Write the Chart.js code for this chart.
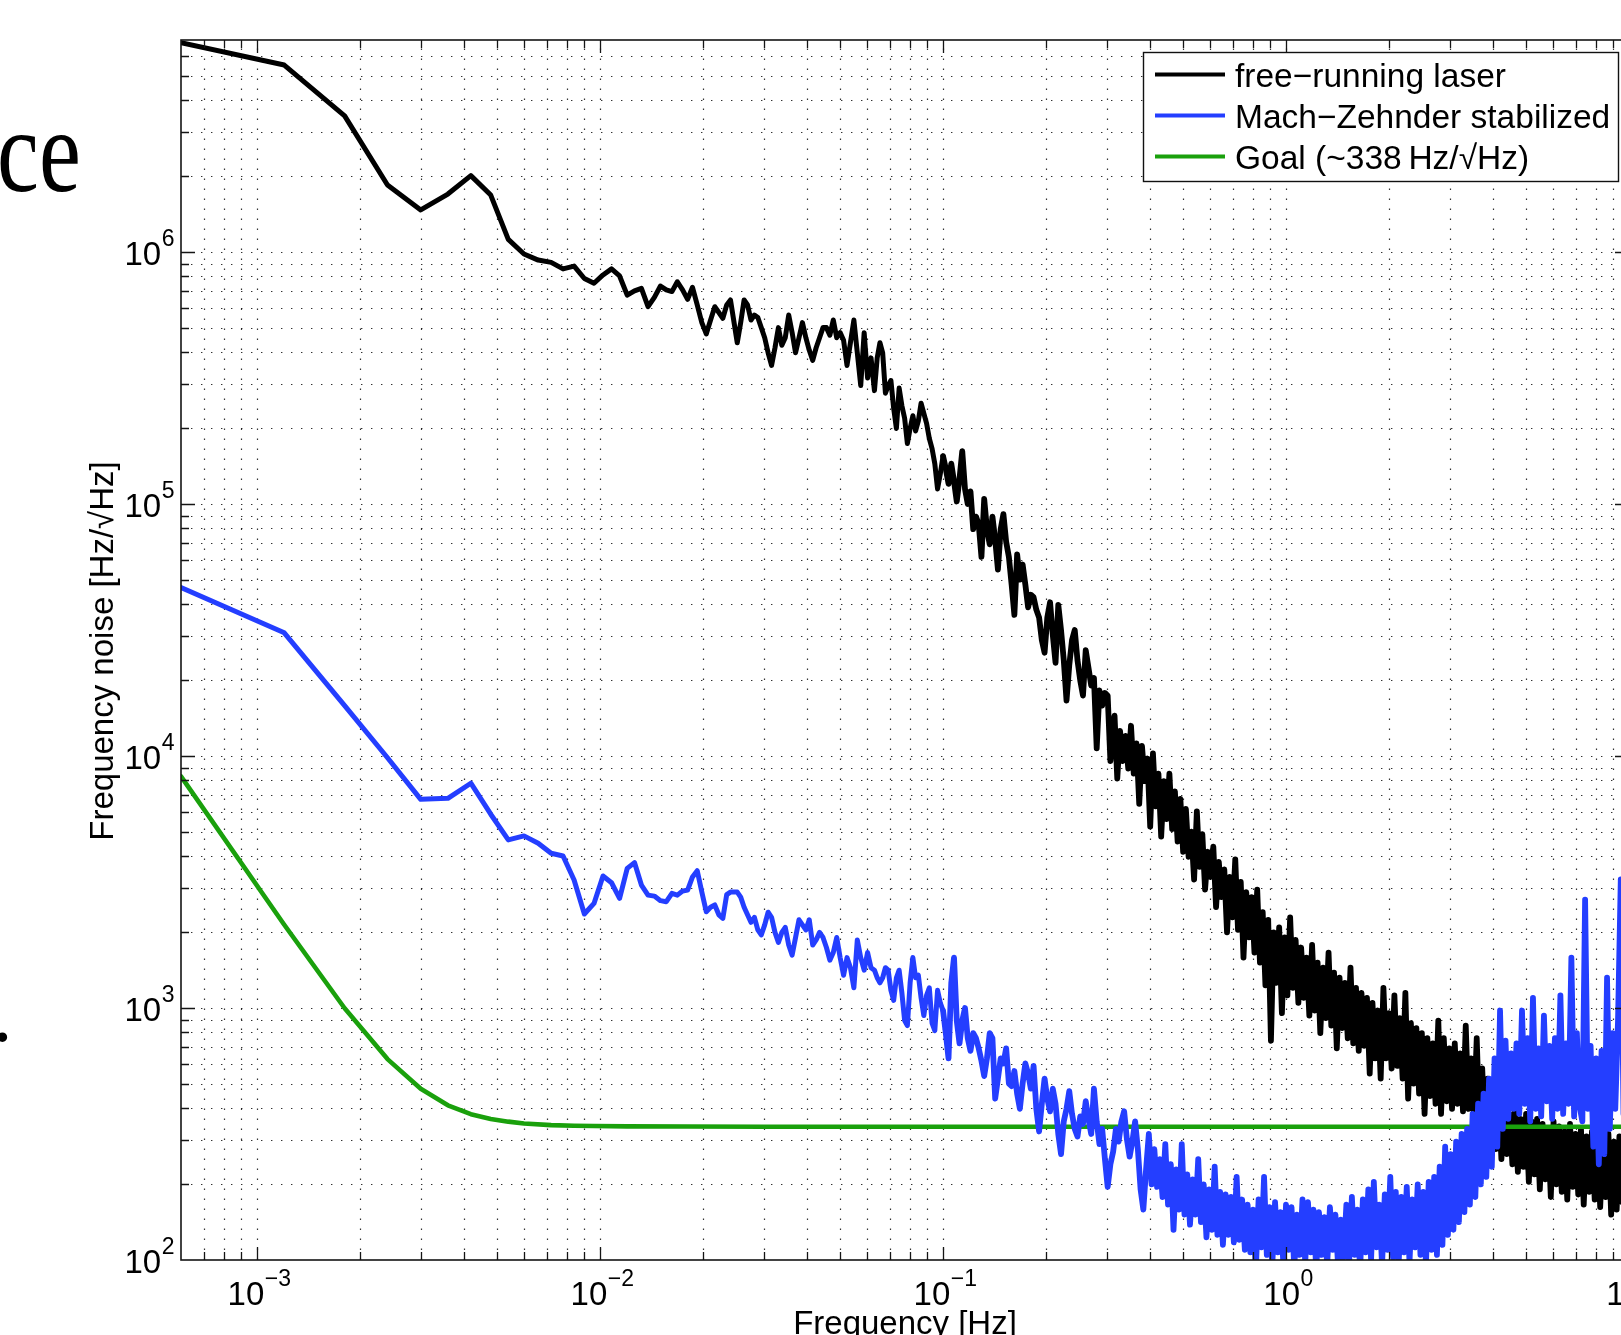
<!DOCTYPE html>
<html>
<head>
<meta charset="utf-8">
<script src="https://cdn.jsdelivr.net/npm/chart.js@4.4.0/dist/chart.umd.min.js"></script>
<style>
html,body{margin:0;padding:0;background:#fff;overflow:hidden;width:1621px;height:1335px}
#wrap{position:absolute;left:0;top:0;width:1700px;height:1335px}
</style>
</head>
<body>
<div id="wrap"><canvas id="c" width="1700" height="1335" style="width:1700px;height:1335px"></canvas></div>
<script>
// ---------------- data (values are log10 of frequency noise in Hz/sqrt(Hz)) ----------------
// low-frequency FFT bins (Hz)
const lowBinFreq = [0.0006,0.0012,0.0018,0.0024,0.0030,0.0036,0.0042,0.0048,0.0054,0.0060,
  0.0066,0.0072,0.0078,0.0084,0.0090,0.0096,0.0102,0.0108,0.0114,0.0120,
  0.0126,0.0132,0.0138,0.0144,0.0150,0.0156,0.0162,0.0168,0.0174,0.0180,
  0.0186,0.0192,0.0198,0.0204,0.0210,0.0216,0.0222,0.0228,0.0234,0.0240];

const freeRunningLow = [6.831,6.742,6.540,6.266,6.167,6.230,6.303,6.226,6.050,5.992,
  5.968,5.959,5.933,5.944,5.895,5.876,5.909,5.933,5.905,5.829,
  5.846,5.856,5.783,5.820,5.865,5.850,5.843,5.882,5.850,5.812,
  5.860,5.790,5.720,5.675,5.730,5.783,5.760,5.737,5.790,5.810];

const mzStabilizedLow = [4.669,4.489,4.200,3.993,3.828,3.832,3.892,3.769,3.667,3.683,
  3.654,3.614,3.603,3.508,3.373,3.415,3.524,3.497,3.435,3.554,
  3.577,3.488,3.448,3.444,3.426,3.422,3.455,3.448,3.464,3.468,
  3.520,3.545,3.460,3.382,3.400,3.409,3.370,3.356,3.450,3.460];

// dense parts: log10(f) start and step of each block
const blockA = {start: -1.60, step: 0.010};
const blockB = {start: -1.20, step: 0.008};
const blockC_free = {start: -0.50, step: 0.008};
const blockC_mz = {start: -0.40, step: 0.008};

const freeRunningA = [5.64,5.72,5.81,5.79,5.73,5.75,5.74,5.70,5.66,5.60,
  5.55,5.62,5.70,5.63,5.66,5.75,5.68,5.60,5.66,5.72,
  5.66,5.61,5.57,5.62,5.66,5.70,5.70,5.67,5.73,5.66,
  5.68,5.65,5.55,5.64,5.73,5.60,5.47,5.68,5.50,5.58];

const freeRunningB = [5.45,5.58,5.64,5.60,5.44,5.47,5.49,5.38,5.30,5.46,
  5.39,5.34,5.24,5.30,5.35,5.29,5.33,5.40,5.36,5.32,
  5.26,5.22,5.16,5.06,5.12,5.19,5.14,5.08,5.16,5.09,
  5.01,5.10,5.21,5.06,5.00,5.05,4.90,4.95,4.92,4.79,
  5.02,4.90,4.84,4.95,4.86,4.74,4.90,4.96,4.85,4.79,
  4.68,4.56,4.80,4.70,4.76,4.68,4.59,4.64,4.63,4.58,
  4.55,4.46,4.41,4.55,4.61,4.48,4.37,4.60,4.50,4.38,
  4.22,4.36,4.46,4.50,4.38,4.30,4.24,4.42,4.35,4.28,
  4.31,4.03,4.26,4.20,4.25,4.24,3.98,4.12];

const freeRunningC = [4.16,3.91,4.10,3.98,4.08,3.95,4.12,3.93,4.05,3.81,
  4.04,3.90,3.99,3.72,4.01,3.80,3.93,3.68,3.90,3.75,
  3.93,3.71,3.86,3.66,3.83,3.62,3.79,3.60,3.70,3.51,
  3.78,3.56,3.69,3.47,3.62,3.52,3.64,3.40,3.58,3.44,
  3.55,3.30,3.52,3.36,3.59,3.31,3.50,3.20,3.46,3.28,
  3.44,3.22,3.47,3.18,3.38,3.09,3.35,2.87,3.30,3.10,
  3.32,2.98,3.28,3.05,3.36,3.08,3.27,3.02,3.24,3.04,
  3.20,2.97,3.25,2.99,3.18,2.90,3.16,2.96,3.22,2.93,
  3.14,2.84,3.12,2.92,3.10,2.88,3.16,2.86,3.08,2.83,
  3.06,2.85,3.04,2.74,3.02,2.80,2.99,2.72,3.08,2.80,
  2.98,2.76,3.05,2.77,2.96,2.72,3.06,2.64,2.94,2.70,
  2.92,2.66,2.90,2.58,2.88,2.65,2.86,2.62,2.95,2.58,
  2.88,2.63,2.84,2.60,2.86,2.62,2.82,2.59,2.93,2.60,
  2.80,2.57,2.88,2.54,2.76,2.50,2.72,2.45,2.68,2.44,
  2.64,2.40,2.62,2.42,2.58,2.38,2.60,2.35,2.56,2.37,
  2.58,2.31,2.55,2.34,2.56,2.28,2.54,2.32,2.52,2.25,
  2.55,2.30,2.53,2.27,2.51,2.24,2.54,2.29,2.50,2.26,
  2.52,2.22,2.49,2.27,2.51,2.24,2.50,2.21,2.48,2.25,
  2.50,2.18,2.47,2.20,2.49,2.23,2.46,2.21];

const mzStabilizedA = [3.46,3.44,3.40,3.37,3.34,3.36,3.31,3.29,3.33,3.38,
  3.36,3.30,3.26,3.30,3.32,3.25,3.21,3.28,3.35,3.33,
  3.31,3.35,3.25,3.27,3.30,3.28,3.24,3.19,3.22,3.28,
  3.20,3.13,3.20,3.16,3.08,3.27,3.20,3.15,3.22,3.16];

const mzStabilizedB = [3.15,3.12,3.10,3.12,3.16,3.15,3.07,3.03,3.12,3.15,
  3.06,2.95,2.93,3.10,3.20,3.12,3.13,3.04,2.97,3.05,
  3.08,2.94,2.91,3.07,3.02,2.99,2.90,2.80,3.10,3.20,
  2.95,2.86,2.95,3.00,2.88,2.83,2.90,2.88,2.84,2.79,
  2.73,2.80,2.90,2.88,2.64,2.72,2.80,2.78,2.84,2.70,
  2.69,2.75,2.66,2.60,2.70,2.78,2.74,2.68,2.77,2.60,
  2.51,2.62,2.72,2.64,2.59,2.68,2.62,2.50,2.42,2.55,
  2.60,2.67,2.58,2.52,2.49,2.57,2.54,2.63,2.56,2.50,
  2.68,2.55,2.46,2.52,2.40,2.29,2.38,2.43,2.52,2.47,
  2.55,2.59,2.48,2.41,2.47,2.55,2.44,2.28,2.20,2.36];

const mzStabilizedC = [2.50,2.30,2.44,2.29,2.40,2.25,2.46,2.22,2.38,2.12,
  2.36,2.20,2.46,2.18,2.34,2.14,2.32,2.18,2.40,2.15,
  2.30,2.09,2.28,2.12,2.37,2.10,2.27,2.06,2.26,2.10,
  2.25,2.07,2.33,2.08,2.24,2.04,2.22,2.03,2.20,1.96,
  2.24,2.05,2.33,2.02,2.21,1.98,2.23,2.03,2.19,1.99,
  2.22,2.04,2.21,1.97,2.18,2.02,2.24,1.99,2.23,2.03,
  2.20,1.96,2.19,2.02,2.17,1.98,2.21,2.04,2.18,1.97,
  2.16,2.01,2.22,1.99,2.25,2.02,2.20,1.96,2.24,2.03,
  2.28,2.00,2.31,2.05,2.22,1.98,2.26,2.04,2.33,2.01,
  2.27,1.97,2.25,2.03,2.29,1.99,2.24,2.05,2.30,2.02,
  2.27,1.98,2.31,2.04,2.33,2.02,2.37,2.06,2.45,2.10,
  2.42,2.12,2.47,2.15,2.50,2.19,2.52,2.22,2.58,2.25,
  2.62,2.30,2.66,2.33,2.72,2.37,2.80,2.45,2.99,2.52,
  2.87,2.56,2.82,2.60,2.86,2.58,2.99,2.62,2.88,2.55,
  3.04,2.60,2.84,2.57,2.97,2.63,2.85,2.56,2.88,2.60,
  3.05,2.58,2.86,2.62,3.20,2.57,2.90,2.61,2.55,3.43,
  2.60,2.85,2.45,2.80,2.38,2.83,2.42,3.12,2.52,2.90,
  2.60,2.95,3.51,2.58,3.10,2.65];

// goal curve (Hz/sqrt(Hz)) at its frequencies (Hz)
const goalFreq = [0.0006,0.0012,0.0018,0.0024,0.0030,0.0036,0.0042,0.0048,0.0054,0.0060,0.0072,0.0084,0.0096,0.012,0.018,0.03,0.1,1,10];
const goalValue = [8300,2140,998,627,478,411,379,363,354,348,343,341,340,339,338.5,338,338,338,338];

const seriesLabels = ['free\u2212running laser', 'Mach\u2212Zehnder stabilized', 'Goal (~338\u2009Hz/\u221AHz)'];
const seriesColors = ['#000000', 'rgb(36,62,255)', 'rgb(26,160,12)'];
const xTickExponents = [-3, -2, -1, 0, 1];
const yTickExponents = [2, 3, 4, 5, 6];
const xTitle = 'Frequency [Hz]';
const yTitle = 'Frequency noise [Hz/\u221AHz]';
const xRange = [6.0e-4, 10];
const yRange = [100, 6.94e6];

// ---------------- build points ----------------
function lowPoints(freqs, logs) { return freqs.map((f, i) => ({x: f, y: Math.pow(10, logs[i])})); }
function blockPoints(block, logs) { return logs.map((v, i) => ({x: Math.pow(10, block.start + i * block.step), y: Math.pow(10, v)})); }

const freePts = [].concat(lowPoints(lowBinFreq, freeRunningLow), blockPoints(blockA, freeRunningA),
  blockPoints(blockB, freeRunningB), blockPoints(blockC_free, freeRunningC));
const mzPts = [].concat(lowPoints(lowBinFreq, mzStabilizedLow), blockPoints(blockA, mzStabilizedA),
  blockPoints(blockB, mzStabilizedB), blockPoints(blockC_mz, mzStabilizedC));
const goalPts = goalFreq.map((f, i) => ({x: f, y: goalValue[i]}));

const FONT = '"Liberation Sans", Arial, Helvetica, sans-serif';

function gridValues(min, max) {
  const out = [];
  for (let d = -5; d <= 8; d++) {
    for (let m = 1; m <= 9; m++) {
      const v = m * Math.pow(10, d);
      if (v > min * 1.0001 && v < max * 0.9999) out.push({v, major: m === 1});
    }
  }
  return out;
}

function drawPow(ctx, exp, x, baseY, supY, align) {
  const base = '10';
  const sup = exp < 0 ? '\u2212' + Math.abs(exp) : String(exp);
  ctx.font = '33px ' + FONT;
  const wb = ctx.measureText(base).width;
  ctx.font = '23px ' + FONT;
  const ws = ctx.measureText(sup).width;
  let x0 = align === 'right' ? x - wb - ws : x - (wb + ws) / 2;
  ctx.textAlign = 'left';
  ctx.textBaseline = 'alphabetic';
  ctx.font = '33px ' + FONT;
  ctx.fillText(base, x0, baseY);
  ctx.font = '23px ' + FONT;
  ctx.fillText(sup, x0 + wb + 0.5, supY);
}

const matlabAxes = {
  id: 'matlabAxes',
  beforeDraw(chart) {
    const ctx = chart.ctx;
    ctx.save();
    ctx.fillStyle = '#fff';
    ctx.fillRect(0, 0, chart.width, chart.height);
    ctx.restore();
  },
  beforeDatasetsDraw(chart) {
    const {ctx, chartArea: a, scales: {x, y}} = chart;
    ctx.save();
    ctx.beginPath();
    ctx.rect(a.left, a.top, a.right - a.left, a.bottom - a.top);
    ctx.clip();
    ctx.strokeStyle = 'rgba(0,0,0,0.8)';
    ctx.lineWidth = 1.2;
    ctx.setLineDash([1.4, 8.6]);
    for (const g of gridValues(x.min, x.max)) {
      const px = Math.round(x.getPixelForValue(g.v)) + 0.5;
      ctx.beginPath(); ctx.moveTo(px, a.bottom); ctx.lineTo(px, a.top); ctx.stroke();
    }
    for (const g of gridValues(y.min, y.max)) {
      const py = Math.round(y.getPixelForValue(g.v)) + 0.5;
      ctx.beginPath(); ctx.moveTo(a.left, py); ctx.lineTo(a.right, py); ctx.stroke();
    }
    ctx.restore();
  },
  afterDatasetsDraw(chart) {
    const {ctx, chartArea: a, scales: {x, y}} = chart;
    ctx.save();
    // ticks
    ctx.strokeStyle = '#151515';
    ctx.lineWidth = 1.3;
    for (const g of gridValues(x.min, x.max)) {
      const px = Math.round(x.getPixelForValue(g.v)) + 0.5;
      const len = g.major ? 13 : 8;
      ctx.beginPath();
      ctx.moveTo(px, a.bottom); ctx.lineTo(px, a.bottom - len);
      ctx.moveTo(px, a.top); ctx.lineTo(px, a.top + len);
      ctx.stroke();
    }
    for (const g of gridValues(y.min, y.max)) {
      const py = Math.round(y.getPixelForValue(g.v)) + 0.5;
      const len = g.major ? 14 : 8;
      ctx.beginPath();
      ctx.moveTo(a.left, py); ctx.lineTo(a.left + len, py);
      ctx.moveTo(a.right, py); ctx.lineTo(a.right - len, py);
      ctx.stroke();
    }
    // box
    ctx.lineWidth = 1.6;
    ctx.strokeRect(a.left, a.top, a.right - a.left, a.bottom - a.top);

    // tick labels
    ctx.fillStyle = '#000';
    for (const e of yTickExponents) {
      const py = y.getPixelForValue(Math.pow(10, e));
      drawPow(ctx, e, a.left - 7, py + 13, py - 6, 'right');
    }
    for (const e of xTickExponents) {
      const px = x.getPixelForValue(Math.pow(10, e));
      drawPow(ctx, e, px + 2, a.bottom + 45, a.bottom + 26, 'center');
    }
    // axis titles
    ctx.font = '33px ' + FONT;
    ctx.textAlign = 'center';
    ctx.textBaseline = 'alphabetic';
    ctx.fillText(xTitle, (a.left + a.right) / 2, a.bottom + 74);
    ctx.save();
    ctx.translate(113, (a.top + a.bottom) / 2 + 1);
    ctx.rotate(-Math.PI / 2);
    ctx.fillText(yTitle, 0, 0);
    ctx.restore();

    // legend
    const lx = 1143.5, ly = 52.5, lw = 475, lh = 129;
    ctx.fillStyle = '#fff';
    ctx.fillRect(lx, ly, lw, lh);
    ctx.strokeStyle = '#111';
    ctx.lineWidth = 1.4;
    ctx.strokeRect(lx, ly, lw, lh);
    const legendOrder = [0, 1, 2];
    const baselines = [86.5, 127.5, 168.5];
    ctx.font = '33.5px ' + FONT;
    ctx.textAlign = 'left';
    legendOrder.forEach((k, r) => {
      const b = baselines[r];
      ctx.strokeStyle = seriesColors[k];
      ctx.lineWidth = 4;
      ctx.beginPath(); ctx.moveTo(1155, b - 12); ctx.lineTo(1225, b - 12); ctx.stroke();
      ctx.fillStyle = '#000';
      ctx.fillText(seriesLabels[k], 1235, b);
    });

    // slide text fragments at the left edge
    ctx.fillStyle = '#000';
    ctx.save();
    ctx.font = '118px "Liberation Serif", "Times New Roman", serif';
    ctx.translate(-3, 190.5);
    ctx.scale(0.8, 1);
    ctx.fillText('ce', 0, 0);
    ctx.restore();
    ctx.font = '81px "Liberation Serif", "Times New Roman", serif';
    ctx.fillText('.', -7.7, 1041);
    ctx.restore();
  }
};

// thicker stroke where the spectrum becomes a dense band
const denseFrom = 0.1;
function segWidth(thin, thick) {
  return c => (c.p0.parsed.x >= denseFrom ? thick : thin);
}

const lineStyle = {pointRadius: 0, pointHoverRadius: 0, tension: 0, fill: false,
  borderJoinStyle: 'round', borderCapStyle: 'round', clip: {left: 0, top: 0, right: 0, bottom: 0}};

new Chart(document.getElementById('c'), {
  type: 'line',
  data: {
    // first dataset is drawn on top: stabilized over goal over free-running
    datasets: [
      Object.assign({label: seriesLabels[1], data: mzPts, borderColor: seriesColors[1], borderWidth: 5,
        segment: {borderWidth: segWidth(5, 5.8)}}, lineStyle),
      Object.assign({label: seriesLabels[2], data: goalPts, borderColor: seriesColors[2], borderWidth: 4.6}, lineStyle),
      Object.assign({label: seriesLabels[0], data: freePts, borderColor: seriesColors[0], borderWidth: 5,
        segment: {borderWidth: segWidth(5, 5.8)}}, lineStyle)
    ]
  },
  options: {
    responsive: false,
    devicePixelRatio: 1,
    animation: false,
    events: [],
    layout: {padding: {left: 181, right: 71, top: 40, bottom: 75}},
    plugins: {legend: {display: false}, tooltip: {enabled: false}, title: {display: false}},
    scales: {
      x: {type: 'logarithmic', min: xRange[0], max: xRange[1], display: false},
      y: {type: 'logarithmic', min: yRange[0], max: yRange[1], display: false}
    }
  },
  plugins: [matlabAxes]
});
</script>
</body>
</html>
